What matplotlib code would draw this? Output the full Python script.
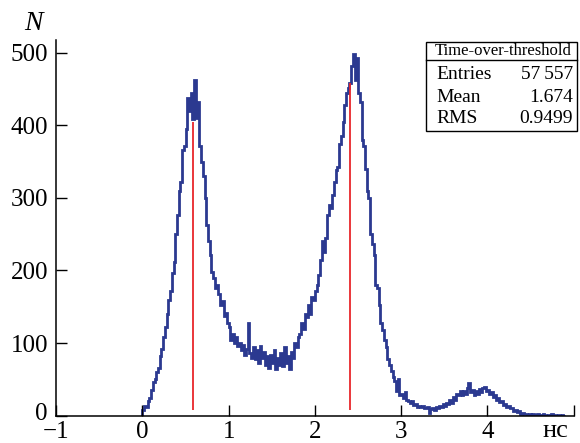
import numpy as np
import matplotlib
matplotlib.use("Agg")
import matplotlib.pyplot as plt
import matplotlib.transforms as mtransforms
from matplotlib.patches import Rectangle
from matplotlib.lines import Line2D

plt.rcParams['font.family'] = ['Liberation Serif', 'DejaVu Serif']

# histogram: bins of 0.02 ns starting at 0 ns
bin_start = 0.0
bin_width = 0.02
counts = [
    # 0.00 - 0.50
    8, 14, 12, 20, 24, 35, 46, 50, 60, 66, 82, 92, 108, 122, 140, 160, 172, 196, 212, 250, 276, 310, 322, 366, 372,
    # 0.50 - 1.00
    395, 438, 420, 445, 408, 462, 410, 432, 372, 350, 330, 300, 262, 240, 222, 198, 190, 176, 180, 168, 152, 158, 138, 142, 128,
    # 1.00 - 1.50
    122, 104, 112, 100, 108, 96, 100, 90, 98, 84, 92, 128, 86, 80, 94, 78, 90, 72, 96, 80, 88, 70, 82, 66, 84,
    # 1.50 - 2.00
    72, 90, 64, 80, 70, 86, 68, 94, 72, 82, 64, 88, 80, 100, 94, 108, 112, 128, 120, 140, 136, 152, 140, 164, 160,
    # 2.00 - 2.50
    172, 180, 194, 215, 240, 226, 245, 276, 290, 286, 304, 322, 338, 342, 374, 385, 405, 428, 444, 452, 458, 482, 498, 462, 492,
    # 2.50 - 3.00
    445, 432, 380, 372, 340, 310, 300, 250, 236, 222, 180, 176, 152, 128, 118, 104, 94, 78, 70, 62, 54, 48, 34, 50, 28,
    # 3.00 - 3.50
    30, 24, 32, 22, 20, 18, 20, 15, 16, 12, 14, 12, 14, 11, 10, 12, 4, 9, 11, 8, 12, 10, 14, 12, 16,
    # 3.50 - 4.00
    14, 18, 16, 22, 18, 26, 22, 30, 28, 34, 28, 34, 30, 38, 45, 32, 36, 28, 34, 30, 37, 32, 38, 40, 34,
    # 4.00 - 4.50
    36, 30, 32, 26, 28, 22, 24, 19, 20, 15, 16, 12, 13, 10, 11, 7, 8, 5, 6, 3, 4, 2, 3, 1, 2,
    # 4.50 - 4.90
    1, 2, 0, 1, 3, 1, 0, 2, 1, 0, 1, 0, 2, 0, 1, 0, 1, 0, 1, 0,
]

# fitted peak positions (red markers)
peak_x = [0.59, 2.41]
peak_top = [405, 458]
peak_bottom = [8, 8]

stats_title = "Time-over-threshold"
stats_names = ["Entries", "Mean", "RMS"]
stats_values = ["57\u2009557", "1.674", "0.9499"]

x_ticks = [-1, 0, 1, 2, 3, 4, 5]
x_labels = ["\u22121", "0", "1", "2", "3", "4", ""]
y_ticks = [0, 100, 200, 300, 400, 500]

fig = plt.figure(figsize=(5.8, 4.43), dpi=100)
ax = fig.add_axes([0.097, 0.0616, 0.892, 0.849])

edges = bin_start + bin_width * np.arange(len(counts) + 1)
ax.stairs(counts, edges, color='#2b3990', linewidth=2.0)
ax.vlines(peak_x, peak_bottom, peak_top, color='#e8262b', linewidth=1.3)

ax.set_xlim(-1, 5)
ax.set_ylim(0, 518)
ax.set_xticks(x_ticks)
ax.set_xticklabels(x_labels)
ax.set_yticks(y_ticks)
ax.tick_params(direction='in', length=8, width=1, labelsize=18)
ax.tick_params(axis='x', pad=4)
ax.tick_params(axis='y', pad=6)
for s in ['top', 'right']:
    ax.spines[s].set_visible(False)
for s in ['left', 'bottom']:
    ax.spines[s].set_linewidth(1.1)

# lift the "0" on the y axis a little so it clears the "-1" below it
zero_lab = ax.yaxis.get_major_ticks()[0].label1
zero_lab.set_transform(zero_lab.get_transform() +
                       mtransforms.ScaledTranslation(0, 4 / 100, fig.dpi_scale_trans))

fig.text(0.057, 0.948, "N", fontsize=20, style='italic', ha='center', va='center')
fig.text(0.957, 0.028, "нс", fontsize=19, ha='center', va='center')

# stats box
box = Rectangle((0.734, 0.704), 0.260, 0.201, transform=fig.transFigure,
                fill=False, edgecolor='black', linewidth=1)
fig.add_artist(box)
fig.add_artist(Line2D([0.734, 0.994], [0.865, 0.865], transform=fig.transFigure,
                      color='black', linewidth=1))
fig.text(0.867, 0.886, stats_title, fontsize=12, ha='center', va='center')
row_y = [0.831, 0.781, 0.732]
for name, val, yy in zip(stats_names, stats_values, row_y):
    fig.text(0.752, yy, name, fontsize=14, ha='left', va='center')
    fig.text(0.988, yy, val, fontsize=14, ha='right', va='center')

fig.savefig("out.png", dpi=100)
